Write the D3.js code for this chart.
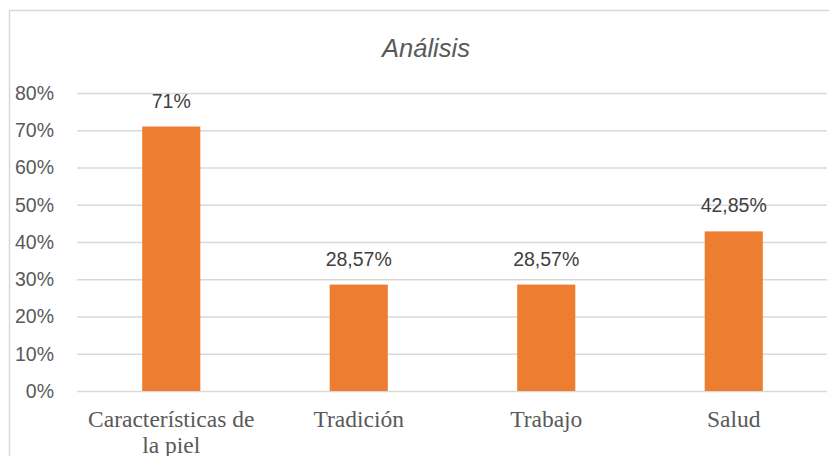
<!DOCTYPE html>
<html>
<head>
<meta charset="utf-8">
<script src="https://cdn.jsdelivr.net/npm/d3@7"></script>
<style>
  body { margin: 0; background: #fff; }
  svg { display: block; }
</style>
</head>
<body>
<svg width="829" height="456"></svg>
<script>
  // chart data
  const categories = ["Características de la piel", "Tradición", "Trabajo", "Salud"];
  const values = [0.71, 0.2857, 0.2857, 0.4285];
  const valueLabels = ["71%", "28,57%", "28,57%", "42,85%"];
  const yTicks = [0, 0.1, 0.2, 0.3, 0.4, 0.5, 0.6, 0.7, 0.8];
  const title = "Análisis";

  var svg = d3.select("svg");
  var width = 829, height = 456;

  // outer chart frame (cut off on the right and bottom)
  svg.append("rect")
    .attr("x", 9.5).attr("y", 10.5)
    .attr("width", width + 20).attr("height", height + 20)
    .attr("fill", "none")
    .attr("stroke", "#d9d9d9")
    .attr("stroke-width", 1.5);

  var x = d3.scaleBand()
    .domain(categories)
    .range([77.5, 827.5])
    .paddingInner(0.69)
    .paddingOuter(0.345);

  var y = d3.scaleLinear()
    .domain([0, 0.8])
    .range([391, 93]);

  // title
  svg.append("text")
    .attr("x", 426).attr("y", 57)
    .attr("text-anchor", "middle")
    .attr("font-family", "Liberation Sans, Arial, sans-serif")
    .attr("font-style", "italic")
    .attr("font-size", 25.5)
    .attr("fill", "#595959")
    .text(title);

  // gridlines + y labels
  var yAxis = svg.append("g")
    .attr("transform", "translate(77,0)")
    .call(d3.axisLeft(y).tickValues(yTicks).tickFormat(d3.format(".0%")).tickSize(-750).tickPadding(23));
  yAxis.select(".domain").remove();
  yAxis.selectAll(".tick line").attr("stroke", "#d9d9d9").attr("stroke-width", 1.3);
  yAxis.selectAll(".tick text")
    .attr("font-family", "Liberation Sans, Arial, sans-serif")
    .attr("font-size", 19.5)
    .attr("fill", "#595959");

  // bars
  svg.append("g")
    .selectAll("rect")
    .data(values)
    .enter().append("rect")
      .attr("x", function (d, i) { return x(categories[i]) })
      .attr("y", function (d) { return y(d) })
      .attr("width", x.bandwidth())
      .attr("height", function (d) { return y(0) - y(d) })
      .attr("fill", "#ed7d31");

  // value labels
  svg.append("g")
    .selectAll("text")
    .data(values)
    .enter().append("text")
      .attr("x", function (d, i) { return x(categories[i]) + x.bandwidth() / 2 })
      .attr("y", function (d) { return y(d) - 19 })
      .attr("text-anchor", "middle")
      .attr("font-family", "Liberation Sans, Arial, sans-serif")
      .attr("font-size", 19.5)
      .attr("fill", "#404040")
      .text(function (d, i) { return valueLabels[i] });

  // category labels, wrapped like the original
  var catLabels = svg.append("g")
    .selectAll("text")
    .data(categories)
    .enter().append("text")
      .attr("x", function (d) { return x(d) + x.bandwidth() / 2 })
      .attr("y", 427)
      .attr("text-anchor", "middle")
      .attr("font-family", "Liberation Serif, Times New Roman, serif")
      .attr("font-size", 23.5)
      .attr("fill", "#595959")
      .text(function (d) { return d });

  catLabels.each(function (d) {
    var text = d3.select(this);
    var words = d.split(" ");
    var cx = text.attr("x");
    text.text(null);
    var line = [];
    var tspan = text.append("tspan").attr("x", cx).attr("dy", 0);
    words.forEach(function (word) {
      line.push(word);
      tspan.text(line.join(" "));
      if (tspan.node().getComputedTextLength() > 182 && line.length > 1) {
        line.pop();
        tspan.text(line.join(" "));
        line = [word];
        tspan = text.append("tspan").attr("x", cx).attr("dy", 26).text(word);
      }
    });
  });
</script>
</body>
</html>
